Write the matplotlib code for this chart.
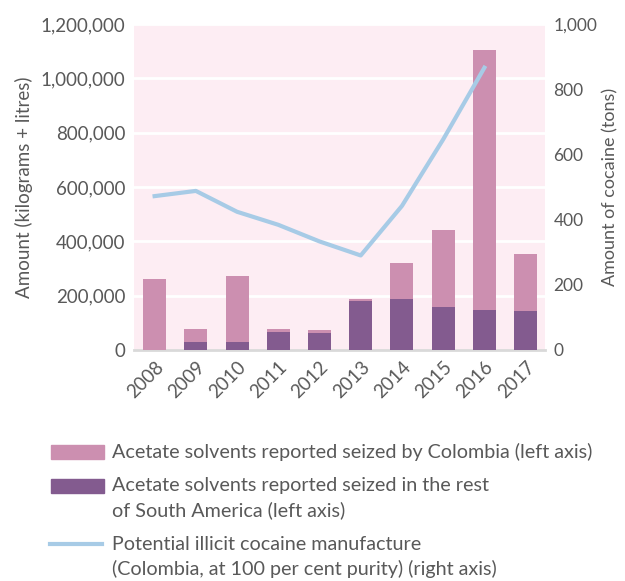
import matplotlib.pyplot as plt
from matplotlib.patches import Rectangle
from matplotlib.lines import Line2D
import numpy as np

plt.rcParams['font.family'] = ['Lato', 'DejaVu Sans']

# --- Data ---
years = ['2008', '2009', '2010', '2011', '2012', '2013', '2014', '2015', '2016', '2017']
rest_sa = [0, 28000, 28000, 68000, 64000, 179000, 186000, 160000, 149000, 145000]
colombia = [263000, 51000, 243000, 11000, 8000, 7000, 133000, 280000, 954000, 207000]
cocaine_years = ['2008', '2009', '2010', '2011', '2012', '2013', '2014', '2015', '2016']
cocaine_tons = [472, 488, 424, 384, 333, 290, 442, 646, 866]

pink = '#cc8fb0'
purple = '#835b8f'
blue = '#a7cbe6'
grey = '#595959'

W, H = 625, 581
fig = plt.figure(figsize=(W / 100, H / 100), dpi=100)
ax = fig.add_axes([0.2144, 0.3976, 0.6576, 0.5611])
ax.set_facecolor('#fdedf3')

x = np.arange(len(years))
ax.bar(x, rest_sa, width=0.56, color=purple, zorder=3)
ax.bar(x, colombia, width=0.56, bottom=rest_sa, color=pink, zorder=3)

ax.set_xlim(-0.5, 9.47)
ax.set_ylim(0, 1200000)
ax.set_yticks(range(0, 1200001, 200000))
ax.set_yticklabels([f'{v:,}' for v in range(0, 1200001, 200000)])
ax.grid(axis='y', color='white', linewidth=2, zorder=1)
ax.set_xticks(x)
ax.set_xticklabels(years, rotation=45, ha='right', rotation_mode='anchor')
for s in ['top', 'right', 'left']:
    ax.spines[s].set_visible(False)
ax.spines['bottom'].set_color('#d9d9d9')
ax.spines['bottom'].set_linewidth(2)
ax.tick_params(length=0, labelsize=13.5, colors=grey, pad=6)
ax.set_ylabel('Amount (kilograms + litres)', fontsize=13.5, color=grey, labelpad=6)

ax2 = ax.twinx()
cx = [years.index(y) for y in cocaine_years]
ax2.plot(cx, cocaine_tons, color=blue, linewidth=3, zorder=4)
ax2.set_ylim(0, 1000)
ax2.set_yticks(range(0, 1001, 200))
ax2.set_yticklabels([f'{v:,}' for v in range(0, 1001, 200)])
for s in ax2.spines.values():
    s.set_visible(False)
ax2.tick_params(length=0, labelsize=12.5, colors=grey, pad=6)
ax2.set_ylabel('Amount of cocaine (tons)', fontsize=13, color=grey, labelpad=4)

# --- Legend drawn by hand (handles line up with the first text line) ---
def fx(px):
    return px / W

def fy(py):
    return 1 - py / H

legend_font = 14.2
fig.patches.append(Rectangle((fx(51), fy(459)), fx(53), 14 / H, color=pink,
                             transform=fig.transFigure))
fig.patches.append(Rectangle((fx(51), fy(493)), fx(53), 14 / H, color=purple,
                             transform=fig.transFigure))
fig.lines.append(Line2D([fx(50), fx(102)], [fy(544), fy(544)], color=blue,
                        linewidth=3, transform=fig.transFigure))
legend_lines = [
    ('Acetate solvents reported seized by Colombia (left axis)', 452),
    ('Acetate solvents reported seized in the rest', 486),
    ('of South America (left axis)', 510),
    ('Potential illicit cocaine manufacture', 545),
    ('(Colombia, at 100 per cent purity) (right axis)', 569),
]
for txt, py in legend_lines:
    fig.text(fx(112), fy(py), txt, fontsize=legend_font, color=grey,
             va='center', ha='left')

fig.savefig('out.png', dpi=100)
